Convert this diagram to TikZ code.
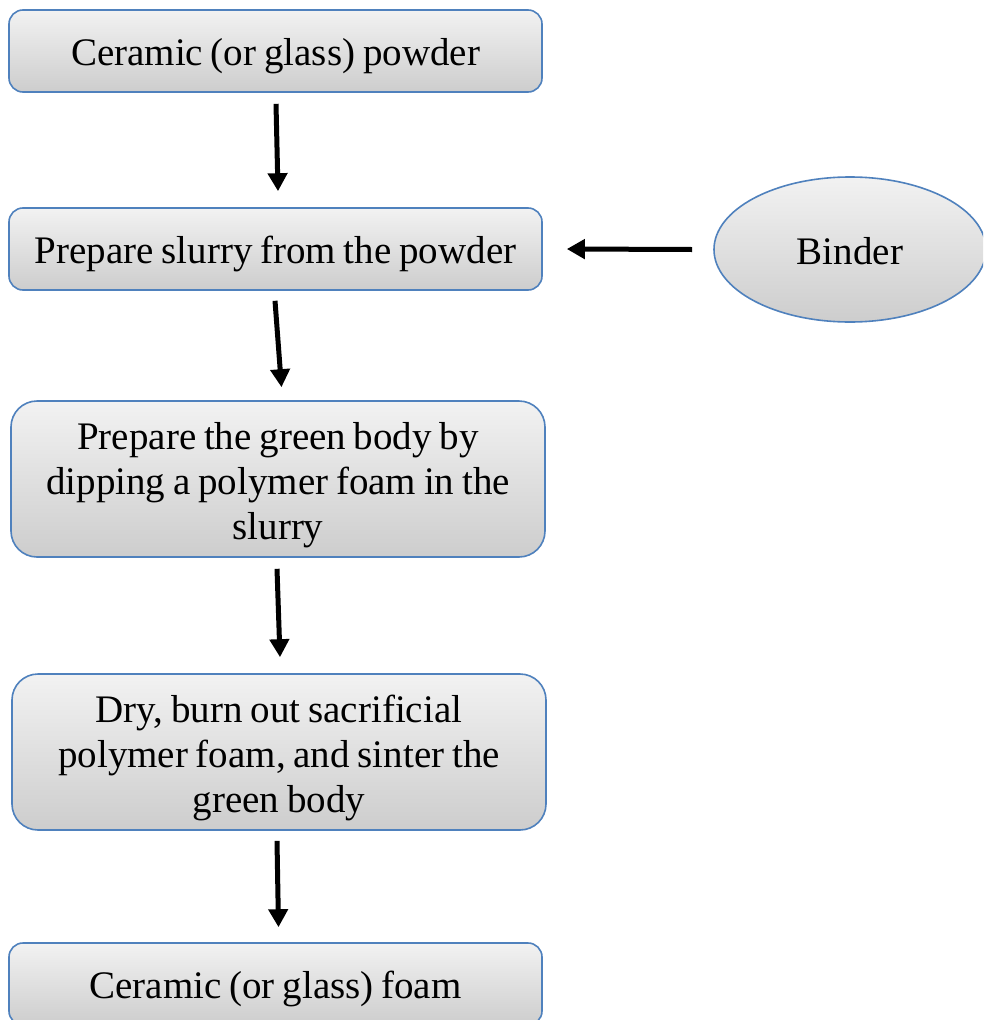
\documentclass[tikz,border=0pt]{standalone}
\usepackage{fontspec}
\setmainfont{Liberation Serif}[WordSpace=0.8]
\usetikzlibrary{shapes.geometric,arrows.meta,calc}
\definecolor{edgeblue}{HTML}{4F81BD}
\definecolor{fillhi}{HTML}{F2F2F2}
\definecolor{filllo}{HTML}{CDCDCD}
\tikzset{
  boxtext/.style={font=\fontsize{39}{45}\selectfont, text height=33pt, text depth=4pt},
  threelines/.style={text height=125pt, text depth=4pt},
  stepbox/.style={rectangle, rounded corners=#1, draw=edgeblue, line width=1.6pt,
    top color=fillhi, bottom color=filllo, align=center, boxtext, inner sep=0pt},
  stepbox/.default=14pt,
  inputoval/.style={ellipse, draw=edgeblue, line width=1.6pt,
    top color=fillhi, bottom color=filllo, inner sep=0pt,
    minimum width=272pt, minimum height=145pt, boxtext},
  flow/.style={line width=5pt, -{Triangle[width=19pt,length=18pt]}}
}
\begin{document}
\begin{tikzpicture}[x=1pt,y=-1pt]
\useasboundingbox (0,0) rectangle (983,1020);
\clip (0,0) rectangle (983,1020);
\fill[white] (0,0) rectangle (983,1020);

\node[stepbox, minimum width=533pt, minimum height=82pt] (powder) at (275.5,51)
  {Ceramic (or glass) powder};
\node[stepbox, minimum width=533pt, minimum height=82pt] (slurry) at (275.5,249)
  {Prepare slurry from the powder};
\node[stepbox=26pt, threelines, minimum width=534pt, minimum height=156pt] (green) at (278,479)
  {Prepare the green body by\\dipping a polymer foam in the\\slurry};
\node[stepbox=26pt, threelines, minimum width=534pt, minimum height=156pt] (sinter) at (279,752)
  {Dry, burn out sacrificial\\polymer foam, and sinter the\\green body};
\node[stepbox, minimum width=533pt, minimum height=82pt] (foam) at (275.5,984)
  {Ceramic (or glass) foam};
\node[inputoval] (binder) at (850,249.5) {Binder};

\draw[flow] ([xshift=0.5pt,yshift=-11pt]powder.south) -- ([xshift=2.5pt,yshift=16pt]slurry.north);
\draw[flow] ([xshift=-0.5pt,yshift=-10pt]slurry.south) -- ([xshift=3.5pt,yshift=13pt]green.north);
\draw[flow] ([xshift=-1pt,yshift=-11pt]green.south) -- ([xshift=1pt,yshift=16pt]sinter.north);
\draw[flow] ([xshift=-2pt,yshift=-10pt]sinter.south) -- ([xshift=3pt,yshift=15pt]foam.north);
\draw[flow] ([xshift=-21pt]binder.west) -- ([xshift=24pt]slurry.east);
\end{tikzpicture}
\end{document}
